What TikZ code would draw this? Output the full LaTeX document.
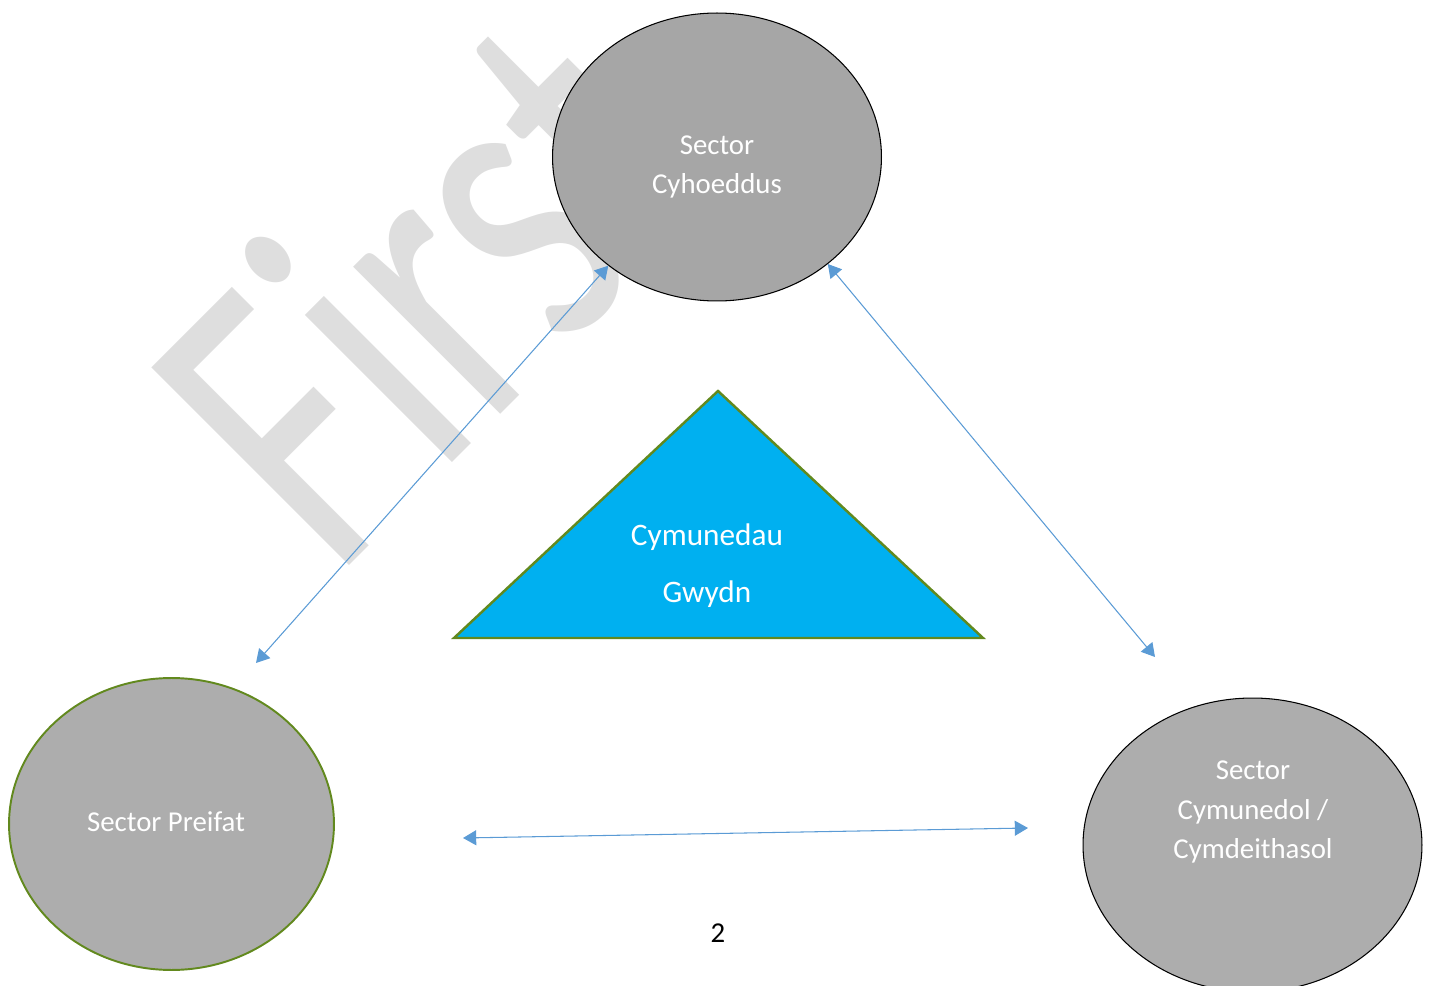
\documentclass[tikz,border=0pt]{standalone}
\usepackage{fontspec}
\setmainfont{Carlito}
\usetikzlibrary{arrows.meta,shapes.geometric}
\definecolor{topgrey}{HTML}{A6A6A6}
\definecolor{sidegrey}{HTML}{ADADAD}
\definecolor{linkblue}{HTML}{5B9BD5}
\definecolor{triblue}{HTML}{00B0F0}
\definecolor{olive}{RGB}{98,137,30}
\definecolor{wmgrey}{HTML}{DEDEDE}
\tikzset{
  sector/.style={ellipse, draw=black, line width=0.6pt, fill=sidegrey, inner sep=0pt},
  sectortext/.style={text=white, align=center, inner sep=0pt, font=\fontsize{16.4}{22.5}\selectfont},
  link/.style={draw=linkblue, line width=0.6pt,
    {Triangle[length=7.5pt,width=8.5pt]}-{Triangle[length=7.5pt,width=8.5pt]}},
}

\begin{document}
\begin{tikzpicture}[x=0.02cm, y=-0.02cm]
		%%%%% START %%%%%
		\useasboundingbox (0, 0) rectangle (1431, 986);
		\clip (0, 0) rectangle (1431, 986);
		
		% watermark
		\node[rotate=45, anchor=base west, inner sep=0pt, text=wmgrey,
		  font=\fontsize{248}{248}\selectfont] (mark) at (334, 581) {\scalebox{0.72}[1]{First}};
		
		% three sectors
		\node[sector, fill=topgrey, minimum width=6.58cm, minimum height=5.76cm] (public) at (717, 157) {};
		\node[sectortext] (publicText) at (717, 167) {Sector\\Cyhoeddus};
		
		\node[sector, draw=olive, line width=1.1pt, minimum width=6.5cm, minimum height=5.84cm] (private) at (171.5, 824) {};
		\node[sectortext] (privateText) at (166, 822) {Sector Preifat};
		
		\node[sector, minimum width=6.78cm, minimum height=5.88cm] (community) at (1252.5, 845) {};
		\node[sectortext] (communityText) at (1253, 812) {Sector\\Cymunedol /\\Cymdeithasol};
		
		% triangle in the middle
		\coordinate (apex) at (718, 391);
		\coordinate (baseL) at (454, 638);
		\coordinate (baseR) at (983, 638);
		\draw[olive, line width=1.4pt, fill=triblue, line join=miter] (apex) -- (baseR) -- (baseL) -- cycle;
		\node[text=white, align=center, font=\fontsize{17.8}{32.6}\selectfont] (resilient) at (707, 566) {Cymunedau\\Gwydn};
		
		% links
		\coordinate (privateEnd) at (256, 663);
		\coordinate (communityEnd) at (1155, 657);
		\coordinate (bottomL) at (463, 838);
		\coordinate (bottomR) at (1028, 828);
		\draw[link] (privateEnd) -- (public.225);
		\draw[link] (public.316) -- (communityEnd);
		\draw[link] (bottomL) -- (bottomR);
		
		\node[font=\fontsize{16.4}{20}\selectfont] (page) at (718, 933) {2};
		%%%%% END %%%%%
	\end{tikzpicture}
\end{document}
